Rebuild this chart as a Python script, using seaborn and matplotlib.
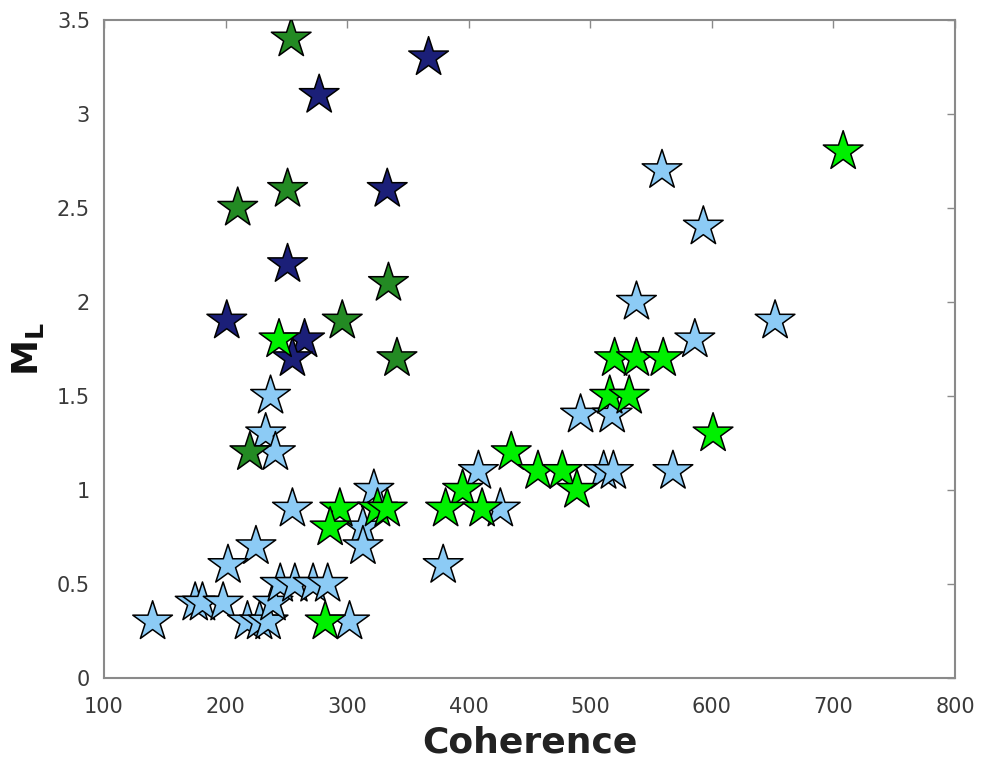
import matplotlib
matplotlib.use("Agg")
import matplotlib.pyplot as plt
import seaborn as sns
import pandas as pd

# Light blue group
lb_x = [559, 593, 538, 652, 586, 492, 518, 568, 511, 519, 408, 426, 379, 322, 313, 313,
        237, 233, 241, 255, 225, 202, 140, 175, 181, 198, 218, 228, 235, 239, 245, 257,
        272, 284, 302]
lb_y = [2.7, 2.4, 2.0, 1.9, 1.8, 1.4, 1.4, 1.1, 1.1, 1.1, 1.1, 0.9, 0.6, 1.0, 0.8, 0.7,
        1.5, 1.3, 1.2, 0.9, 0.7, 0.6, 0.3, 0.4, 0.4, 0.4, 0.3, 0.3, 0.3, 0.4, 0.5, 0.5,
        0.5, 0.5, 0.3]

# Dark green group
dg_x = [254, 251, 210, 334, 296, 341, 220]
dg_y = [3.4, 2.6, 2.5, 2.1, 1.9, 1.7, 1.2]

# Navy group
nv_x = [367, 277, 333, 251, 201, 265, 255]
nv_y = [3.3, 3.1, 2.6, 2.2, 1.9, 1.8, 1.7]

# Bright green group
bg_x = [708, 244, 520, 538, 560, 516, 532, 601, 435, 457, 477, 489, 395, 381, 411,
        294, 286, 325, 333, 282]
bg_y = [2.8, 1.8, 1.7, 1.7, 1.7, 1.5, 1.5, 1.3, 1.2, 1.1, 1.1, 1.0, 1.0, 0.9, 0.9,
        0.9, 0.8, 0.9, 0.9, 0.3]

groups = ["lightblue", "darkgreen", "navy", "brightgreen"]
colors = {"lightblue": "#8ccbf5", "darkgreen": "#238a23",
          "navy": "#1b1f78", "brightgreen": "#00f000"}

df = pd.concat([
    pd.DataFrame({"Coherence": lb_x, "ML": lb_y, "group": "lightblue"}),
    pd.DataFrame({"Coherence": dg_x, "ML": dg_y, "group": "darkgreen"}),
    pd.DataFrame({"Coherence": nv_x, "ML": nv_y, "group": "navy"}),
    pd.DataFrame({"Coherence": bg_x, "ML": bg_y, "group": "brightgreen"}),
], ignore_index=True)

sns.set_style("white")
fig = plt.figure(figsize=(9.81, 7.65), dpi=100)
ax = fig.add_axes([0.106, 0.1137, 0.8675, 0.8603])

sns.scatterplot(data=df, x="Coherence", y="ML", hue="group", hue_order=groups,
                palette=colors, marker="*", s=900, edgecolor="black",
                linewidth=1.1, legend=False, ax=ax, zorder=3)

ax.set_xlim(100, 800)
ax.set_ylim(0, 3.5)
ax.set_xticks([100, 200, 300, 400, 500, 600, 700, 800])
ax.set_yticks([0, 0.5, 1, 1.5, 2, 2.5, 3, 3.5])
ax.set_yticklabels(["0", "0.5", "1", "1.5", "2", "2.5", "3", "3.5"])

for s in ax.spines.values():
    s.set_visible(True)
    s.set_color("#8a8a8a")
    s.set_linewidth(1.5)

ax.tick_params(axis="both", which="both", direction="in", length=6, width=1,
               color="#8a8a8a", top=True, right=True, labelsize=15,
               labelcolor="#3a3a3a")
ax.tick_params(axis="x", pad=14)
ax.tick_params(axis="y", pad=10)

ax.set_xlabel("Coherence", fontsize=26, fontweight="bold", color="#222222", labelpad=6)
ax.set_ylabel(r"$\mathbf{M}_\mathbf{L}$", fontsize=26, color="#111111", labelpad=8)

fig.savefig("out.png", dpi=100)
